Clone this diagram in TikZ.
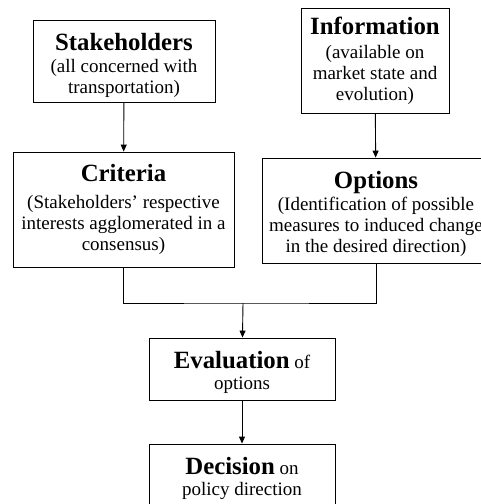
\documentclass[tikz,border=0pt]{standalone}
\usepackage{fontspec}
\setmainfont{Liberation Serif}
\usepackage{tikz}
\usetikzlibrary{arrows.meta,positioning}
\newcommand\headfont{\fontsize{24.8}{28}\selectfont\bfseries}
\newcommand\bodyfont{\fontsize{19}{21}\selectfont}
\newcommand\topgap[1]{\rule{0pt}{#1}}
\tikzset{
  box/.style={rectangle, draw=black, line width=0.9pt, inner sep=0pt,
              align=center, font=\bodyfont},
  link/.style={line width=0.9pt},
  arrow/.style={-{Triangle[length=7pt,width=6pt]}, line width=0.9pt},
}

\begin{document}
\begin{tikzpicture}[x=1pt,y=-1pt]
\useasboundingbox (0,0) rectangle (480,504);

\node[box, minimum width=182pt, minimum height=82pt] (stake) at (124,61)
  {\topgap{27pt}{\headfont Stakeholders}\\[1pt] (all concerned with\\ transportation)};
\node[box, minimum width=148pt, minimum height=105pt] (info) at (375,60.5)
  {{\headfont Information}\\[3pt] (available on\\ market state and\\ evolution)};
\node[box, minimum width=221pt, minimum height=115pt] (crit) at (123.5,209.5)
  {{\headfont Criteria}\\[6pt] (Stakeholders' respective\\ interests agglomerated in a\\ consensus)};
\node[box, minimum width=228pt, minimum height=105pt] (opts) at (376,210.5)
  {\topgap{25pt}{\headfont Options}\\[1pt] (Identification of possible\\ measures to induced change\\ in the desired direction)};
\node[box, minimum width=186pt, minimum height=62pt] (eval) at (242,369)
  {\topgap{25pt}{\headfont Evaluation} of\\ options};
\node[box, minimum width=186pt, minimum height=62pt] (decide) at (242,475)
  {\topgap{24pt}{\headfont Decision} on\\ policy direction};

\coordinate (join) at (243,303);

% inputs
\draw[arrow] (stake) -- (crit);
\draw[arrow] (info) -- (opts);
% merge into evaluation
\draw[link] (crit.south) |- (join) -| (opts.south);
\draw[arrow] (join) -- (eval);
\draw[arrow] (eval) -- (decide);
\end{tikzpicture}
\end{document}
